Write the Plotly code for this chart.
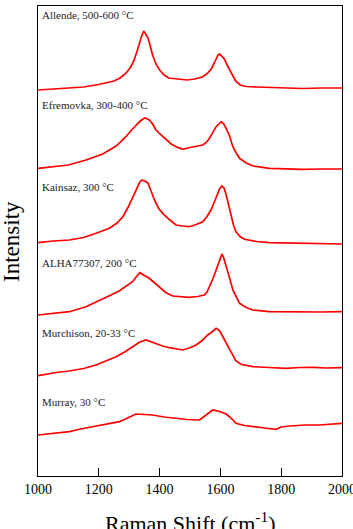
import plotly.graph_objects as go

# Raman shift (cm^-1) sample positions and stacked intensities (arbitrary units)
allende_x = [1000, 1050, 1100, 1150, 1200, 1250, 1270, 1290, 1305, 1315, 1325, 1333, 1341, 1348, 1355, 1362, 1370, 1377, 1388, 1400, 1415, 1430, 1460, 1490, 1515, 1540, 1555, 1570, 1580, 1586, 1592, 1598, 1605, 1613, 1622, 1630, 1640, 1650, 1665, 1685, 1720, 1760, 1800, 1870, 1930, 2000]
allende_y = [386, 387, 388, 389, 391.5, 395, 398, 403, 409, 415, 424, 433, 440, 445, 442, 438, 429, 421, 412, 406, 401, 398, 397, 396, 397, 399, 402, 407, 413, 418, 421, 422, 420, 417, 411, 406, 400, 395, 391, 389.5, 389, 388.5, 388, 387.5, 388, 388]

efremovka_x = [1000, 1050, 1100, 1158, 1213, 1257, 1289, 1305, 1322, 1333, 1344, 1352, 1360, 1366, 1377, 1388, 1405, 1421, 1438, 1454, 1476, 1492, 1509, 1525, 1542, 1555, 1564, 1575, 1586, 1595, 1603, 1611, 1619, 1630, 1641, 1652, 1663, 1685, 1707, 1761, 1816, 1871, 1930, 2000]
efremovka_y = [307.7, 309, 311, 316, 322, 330, 339.3, 345, 351, 354, 356.7, 358, 357, 356, 352, 346, 341, 336.7, 332, 329.3, 326.7, 328, 329.3, 330, 331, 334, 337.7, 343, 349.3, 352, 354.3, 352, 347.7, 340, 329.3, 323, 317.7, 313, 310, 307.7, 307, 306.7, 307, 307]

kainsaz_x = [1000, 1050, 1103, 1150, 1191, 1235, 1260, 1279, 1295, 1311, 1320, 1328, 1335, 1342, 1350, 1361, 1372, 1383, 1396, 1410, 1432, 1454, 1476, 1498, 1520, 1542, 1556, 1569, 1580, 1591, 1598, 1605, 1612, 1619, 1627, 1635, 1643, 1651, 1665, 1679, 1720, 1761, 1816, 1871, 1930, 2000]
kainsaz_y = [233.3, 235, 236, 238.5, 242.7, 247.7, 253, 259.3, 268, 277.7, 284, 289.3, 294, 296, 295, 293.3, 285, 276, 268, 262.7, 256.5, 251, 250, 249.3, 251.5, 254.3, 259.5, 266, 274, 282.7, 287.5, 290, 288, 281, 271, 259.3, 251, 244.3, 239.5, 236.7, 234.5, 233.3, 233, 232.7, 232.5, 232]

alha_x = [1000, 1050, 1103, 1158, 1213, 1240, 1268, 1290, 1311, 1323, 1335, 1350, 1366, 1382, 1399, 1420, 1443, 1470, 1498, 1525, 1547, 1556, 1564, 1575, 1586, 1595, 1600, 1605, 1610, 1616, 1624, 1632, 1641, 1652, 1663, 1685, 1707, 1761, 1816, 1871, 1930, 2000]
alha_y = [161, 162.5, 164.3, 169.3, 176.7, 181, 185.3, 189.5, 194.3, 199, 203.3, 200.5, 197.7, 193.5, 188.7, 183.5, 180, 179, 178.7, 179.5, 181, 184, 189.3, 197, 206, 213.5, 218, 222, 219, 213, 206, 196, 186, 178.5, 172.7, 168.5, 166, 164.3, 164, 163.7, 164, 164.3]

murchison_x = [1000, 1030, 1060, 1103, 1150, 1191, 1225, 1257, 1285, 1311, 1335, 1355, 1372, 1388, 1410, 1432, 1455, 1476, 1498, 1520, 1540, 1558, 1572, 1586, 1597, 1608, 1619, 1630, 1641, 1651, 1670, 1707, 1760, 1816, 1860, 1904, 1950, 2000]
murchison_y = [100.3, 102, 103.5, 105, 107.5, 111, 115, 119.3, 124, 129.3, 134, 136, 134, 132.7, 130, 128.3, 127, 126, 128, 131, 135.5, 141, 144, 147.7, 145.5, 139.3, 133.5, 127.7, 121, 115, 111.5, 109.3, 108.5, 107.7, 108.5, 108.7, 108, 108.3]

murray_x = [1000, 1040, 1070, 1103, 1140, 1191, 1230, 1268, 1295, 1322, 1350, 1377, 1415, 1454, 1490, 1531, 1555, 1575, 1598, 1619, 1635, 1651, 1680, 1707, 1745, 1783, 1800, 1827, 1880, 1926, 1960, 2000]
murray_y = [41, 42.5, 43, 44.3, 47, 50, 52.5, 54.3, 58, 62, 61.5, 61, 59, 57.7, 56.5, 56, 61, 66, 64.5, 62, 58, 52.7, 50.5, 49.3, 48, 46.7, 49, 50, 51, 51, 52, 52.7]

spectra = [
    (allende_x, allende_y),
    (efremovka_x, efremovka_y),
    (kainsaz_x, kainsaz_y),
    (alha_x, alha_y),
    (murchison_x, murchison_y),
    (murray_x, murray_y),
]

labels = ["Allende, 500-600 °C", "Efremovka, 300-400 °C", "Kainsaz, 300 °C",
          "ALHA77307, 200 °C", "Murchison, 20-33 °C", "Murray, 30 °C"]
label_y = [461, 371, 289, 213, 143, 74]

x_ticks = [1000, 1200, 1400, 1600, 1800, 2000]

serif = "Liberation Serif, Times New Roman, serif"

fig = go.Figure()
for sx, sy in spectra:
    fig.add_trace(go.Scatter(x=sx, y=sy, mode="lines",
                             line=dict(color="#ff0000", width=1.7),
                             showlegend=False, hoverinfo="skip"))

for text, ly in zip(labels, label_y):
    fig.add_annotation(x=1006, y=ly, xref="x", yref="y", text=text,
                       showarrow=False, xanchor="left", yanchor="middle",
                       font=dict(family=serif, size=11, color="#222222"))

fig.add_annotation(x=0.5, y=-0.098, xref="paper", yref="paper",
                   text="Raman Shift (cm<sup>-1</sup>)", showarrow=False,
                   xanchor="center", yanchor="middle",
                   font=dict(family=serif, size=22, color="black"))
fig.add_annotation(x=-0.089, y=0.5, xref="paper", yref="paper",
                   text="Intensity", textangle=-90, showarrow=False,
                   xanchor="center", yanchor="middle",
                   font=dict(family=serif, size=23, color="black"))

fig.update_layout(
    width=353, height=529,
    margin=dict(l=38, r=11, t=6, b=53, autoexpand=False),
    paper_bgcolor="white", plot_bgcolor="white",
    font=dict(family=serif, color="black"),
)
fig.update_xaxes(range=[1000, 2000], tickvals=x_ticks, ticks="inside", ticklen=8,
                 tickwidth=1.2, tickcolor="black", showline=True, linecolor="black",
                 linewidth=1.2, mirror=True, showgrid=False, zeroline=False,
                 ticklabeloverflow="allow", automargin=False,
                 tickfont=dict(family=serif, size=14, color="black"))
fig.update_yaxes(range=[0, 470], showticklabels=False, ticks="", showline=True,
                 linecolor="black", linewidth=1.2, mirror=True, showgrid=False,
                 zeroline=False, automargin=False)

fig.write_html("out.html")
